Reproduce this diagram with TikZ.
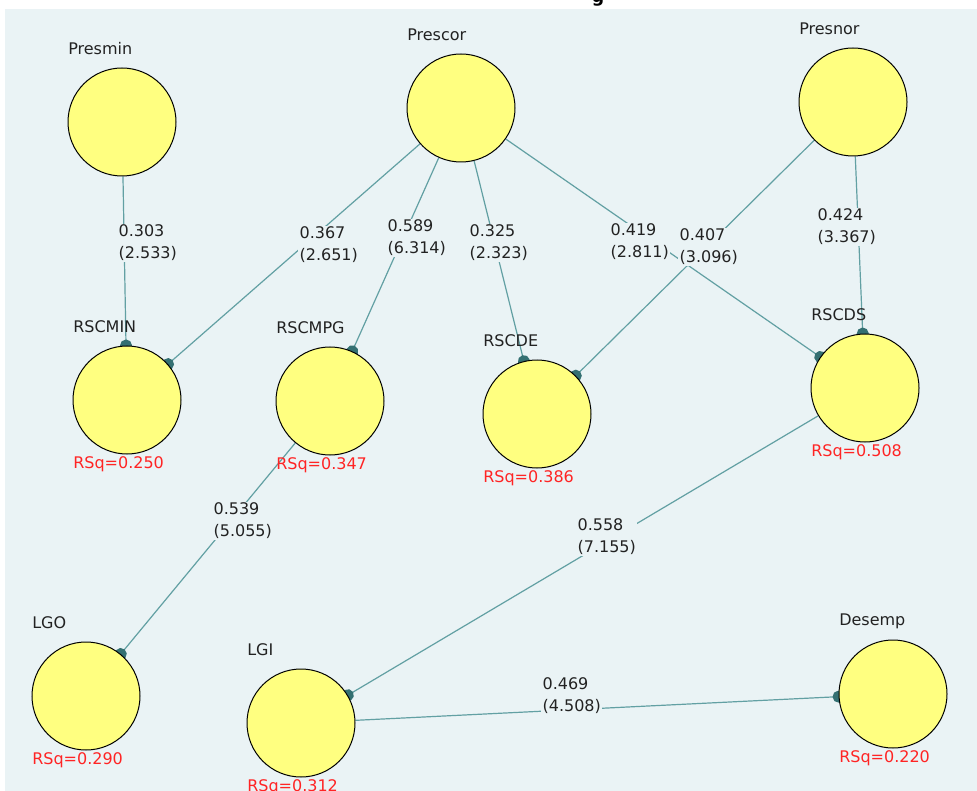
\documentclass[tikz,border=0pt]{standalone}
\usepackage{fontspec}
\setmainfont{DejaVu Sans}
\usetikzlibrary{arrows.meta,calc}

\definecolor{canvas}{RGB}{234,243,245}
\definecolor{lvfill}{RGB}{255,255,128}
\definecolor{pathline}{RGB}{98,160,163}
\definecolor{pathtip}{RGB}{52,112,114}
\definecolor{rsqred}{RGB}{255,36,36}
\definecolor{inktext}{RGB}{34,34,34}

\pgfdeclarelayer{backdrop}
\pgfdeclarelayer{links}
\pgfsetlayers{backdrop,links,main}

\begin{document}
\begin{tikzpicture}[x=0.75pt,y=-0.75pt,
  latent/.style={circle,draw=black,line width=0.75pt,fill=lvfill,
    minimum size=81pt,inner sep=0pt},
  lvname/.style={anchor=west,inner sep=0pt,text=inktext,
    font=\fontsize{12}{16}\selectfont},
  rsq/.style={anchor=west,inner sep=0pt,text=rsqred,
    font=\fontsize{12}{16}\selectfont},
  coef/.style={anchor=west,align=left,fill=canvas,inner sep=1pt,text=inktext,
    font=\fontsize{12}{16.5}\selectfont},
  link/.style={draw=pathline,line width=0.9pt,
    -{Circle[length=9pt,color=pathtip,fill=pathtip]},shorten >=-4.5pt}
]
\useasboundingbox (0,0) rectangle (977,791);

% canvas
\begin{pgfonlayer}{backdrop}
  \fill[canvas] (5,9) rectangle (977,791);
\end{pgfonlayer}

% heading fragment above the canvas
\node[anchor=base,inner sep=0pt,font=\bfseries\fontsize{13}{13}\selectfont] (headfrag) at (598,3) {g};

% latent variables
\node[latent] (presmin) at (122,122) {};
\node[latent] (prescor) at (461,108) {};
\node[latent] (presnor) at (853,102) {};
\node[latent] (rscmin)  at (127,400) {};
\node[latent] (rscmpg)  at (330,401) {};
\node[latent] (rscde)   at (537,414) {};
\node[latent] (rscds)   at (865,388) {};
\node[latent] (lgo)     at (86,696)  {};
\node[latent] (lgi)     at (301,723) {};
\node[latent] (desemp)  at (893,694) {};

% names
\node[lvname] (presmin-n) at ($(presmin)+(-54,-73)$) {Presmin};
\node[lvname] (prescor-n) at ($(prescor)+(-54,-73)$) {Prescor};
\node[lvname] (presnor-n) at ($(presnor)+(-54,-73)$) {Presnor};
\node[lvname] (rscmin-n)  at ($(rscmin)+(-54,-73)$)  {RSCMIN};
\node[lvname] (rscmpg-n)  at ($(rscmpg)+(-54,-73)$)  {RSCMPG};
\node[lvname] (rscde-n)   at ($(rscde)+(-54,-73)$)   {RSCDE};
\node[lvname] (rscds-n)   at ($(rscds)+(-54,-73)$)   {RSCDS};
\node[lvname] (lgo-n)     at ($(lgo)+(-54,-73)$)     {LGO};
\node[lvname] (lgi-n)     at ($(lgi)+(-54,-73)$)     {LGI};
\node[lvname] (desemp-n)  at ($(desemp)+(-54,-73)$)  {Desemp};

% R squared values
\node[rsq] (rscmin-r) at ($(rscmin)+(-54,64)$) {RSq=0.250};
\node[rsq] (rscmpg-r) at ($(rscmpg)+(-54,64)$) {RSq=0.347};
\node[rsq] (rscde-r)  at ($(rscde)+(-54,64)$)  {RSq=0.386};
\node[rsq] (rscds-r)  at ($(rscds)+(-54,64)$)  {RSq=0.508};
\node[rsq] (lgo-r)    at ($(lgo)+(-54,64)$)    {RSq=0.290};
\node[rsq] (lgi-r)    at ($(lgi)+(-54,64)$)    {RSq=0.312};
\node[rsq] (desemp-r) at ($(desemp)+(-54,64)$) {RSq=0.220};

% structural paths
\begin{pgfonlayer}{links}
  \draw[link] (presmin) -- (rscmin);
  \draw[link] (prescor) -- (rscmin);
  \draw[link] (prescor) -- (rscmpg);
  \draw[link] (prescor) -- (rscde);
  \draw[link] (prescor) -- (rscds);
  \draw[link] (presnor) -- (rscde);
  \draw[link] (presnor) -- (rscds);
  \draw[link] (rscmpg)  -- (lgo);
  \draw[link] (rscds)   -- (lgi);
  \draw[link] (lgi)     -- (desemp);
\end{pgfonlayer}

% path coefficients (t values)
\node[coef] (c-presmin-rscmin) at (117,243) {0.303\\(2.533)};
\node[coef] (c-prescor-rscmin) at (298,245) {0.367\\(2.651)};
\node[coef] (c-prescor-rscmpg) at (386,238) {0.589\\(6.314)};
\node[coef] (c-prescor-rscde)  at (468,243) {0.325\\(2.323)};
\node[coef] (c-prescor-rscds)  at (609,242) {0.419\\(2.811)};
\node[coef] (c-presnor-rscde)  at (678,247) {0.407\\(3.096)};
\node[coef] (c-presnor-rscds)  at (816,227) {0.424\\(3.367)};
\node[coef] (c-rscmpg-lgo)     at (212,521) {0.539\\(5.055)};
\node[coef] (c-rscds-lgi)      at (576,537) {0.558\\(7.155)};
\node[coef] (c-lgi-desemp)     at (541,696) {0.469\\(4.508)};
\end{tikzpicture}
\end{document}
